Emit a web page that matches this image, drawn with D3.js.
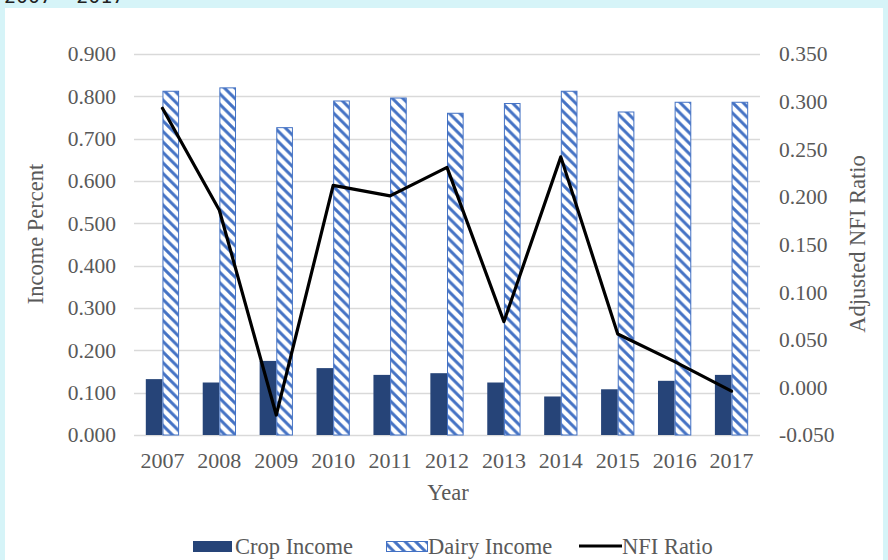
<!DOCTYPE html>
<html>
<head>
<meta charset="utf-8">
<script src="https://cdn.jsdelivr.net/npm/d3@7"></script>
<style>
  html, body { margin: 0; padding: 0; background: #d6f4f8; }
  svg { display: block; }
</style>
</head>
<body>
<svg id="chart" width="888" height="560"></svg>
<script>
const years = ["2007","2008","2009","2010","2011","2012","2013","2014","2015","2016","2017"];
const cropIncome  = [0.132, 0.124, 0.175, 0.158, 0.142, 0.146, 0.124, 0.091, 0.108, 0.128, 0.142];
const dairyIncome = [0.812, 0.820, 0.726, 0.789, 0.796, 0.760, 0.783, 0.812, 0.763, 0.786, 0.786];
const nfiRatio    = [0.293, 0.186, -0.029, 0.212, 0.201, 0.231, 0.069, 0.242, 0.056, 0.027, -0.004];
const leftTicks  = [0, 0.1, 0.2, 0.3, 0.4, 0.5, 0.6, 0.7, 0.8, 0.9];
const rightTicks = [-0.05, 0, 0.05, 0.1, 0.15, 0.2, 0.25, 0.3, 0.35];
const seriesNames = ["Crop Income", "Dairy Income", "NFI Ratio"];

const svg = d3.select("#chart");
const W = 888, H = 560;
const FONT = "'Liberation Serif', 'Times New Roman', serif";
const plot = { left: 134, right: 760, top: 54, bottom: 435 };
const fmt = d => d3.format(".3f")(d).replace("\u2212", "-");

// background panels
svg.append("rect").attr("x", 0).attr("y", 0).attr("width", W).attr("height", H).attr("fill", "#d6f4f8");
svg.append("rect").attr("x", 5).attr("y", 8).attr("width", 878).attr("height", H - 8).attr("fill", "#ffffff");
svg.append("text").attr("x", 4).attr("y", 3).attr("font-family", "'DejaVu Sans Mono', monospace")
  .attr("font-size", 20).attr("fill", "#222").text("2007- 2017");

// hatch pattern
const defs = svg.append("defs");
const P = 10.5;
const pat = defs.append("pattern").attr("id", "hatch").attr("patternUnits", "userSpaceOnUse")
  .attr("width", P).attr("height", P);
pat.append("rect").attr("width", P).attr("height", P).attr("fill", "#ffffff");
pat.append("path").attr("d", `M-2,-2 L${P + 2},${P + 2} M${-P - 2},-2 L2,${P + 2} M${P - 2},-2 L${2 * P + 2},${P + 2}`)
  .attr("stroke", "#4472c4").attr("stroke-width", 3);

const x = d3.scaleBand().domain(years).range([plot.left, plot.right])
  .paddingInner(0.415).paddingOuter(0.2075);
const xs = d3.scaleBand().domain(["crop", "dairy"]).range([0, x.bandwidth()]);
const yL = d3.scaleLinear().domain([0, 0.9]).range([plot.bottom, plot.top]);
const yR = d3.scaleLinear().domain([-0.05, 0.35]).range([plot.bottom, plot.top]);

// gridlines
svg.append("g").selectAll("line").data(leftTicks).join("line")
  .attr("x1", plot.left).attr("x2", plot.right)
  .attr("y1", d => Math.round(yL(d)) + 0.5).attr("y2", d => Math.round(yL(d)) + 0.5)
  .attr("stroke", "#d9d9d9").attr("stroke-width", 1.3);

// bars
svg.append("g").selectAll("rect").data(years).join("rect")
  .attr("x", d => x(d) + xs("crop"))
  .attr("width", xs.bandwidth())
  .attr("y", (d, i) => yL(cropIncome[i]))
  .attr("height", (d, i) => yL(0) - yL(cropIncome[i]))
  .attr("fill", "#264478");
svg.append("g").selectAll("rect").data(years).join("rect")
  .attr("x", d => x(d) + xs("dairy") + 0.5)
  .attr("width", xs.bandwidth() - 1)
  .attr("y", (d, i) => yL(dairyIncome[i]))
  .attr("height", (d, i) => yL(0) - yL(dairyIncome[i]))
  .attr("fill", "url(#hatch)")
  .attr("stroke", "#4472c4").attr("stroke-width", 1);

// line
const line = d3.line().x((d, i) => x(years[i]) + x.bandwidth() / 2).y(d => yR(d));
svg.append("path").datum(nfiRatio).attr("d", line)
  .attr("fill", "none").attr("stroke", "#000").attr("stroke-width", 3.2)
  .attr("stroke-linejoin", "round").attr("stroke-linecap", "round");

// axes
const axL = svg.append("g").attr("transform", `translate(${plot.left - 18},0)`)
  .call(d3.axisLeft(yL).tickValues(leftTicks).tickFormat(fmt).tickSize(0).tickPadding(0));
const axR = svg.append("g").attr("transform", `translate(${plot.right + 19},0)`)
  .call(d3.axisRight(yR).tickValues(rightTicks).tickFormat(fmt).tickSize(0).tickPadding(0));
const axB = svg.append("g").attr("transform", `translate(0,${plot.bottom + 17})`)
  .call(d3.axisBottom(x).tickSize(0).tickPadding(0));
[axL, axR, axB].forEach(a => {
  a.select(".domain").remove();
  a.selectAll("text").attr("font-family", FONT).attr("font-size", 21.5).attr("fill", "#595959");
});
axB.selectAll("text").attr("dy", "0.71em").attr("font-size", 22);

// axis titles
svg.append("text").attr("transform", "translate(43,234) rotate(-90)")
  .attr("text-anchor", "middle").attr("font-family", FONT).attr("font-size", 22.5)
  .attr("fill", "#595959").text("Income Percent");
svg.append("text").attr("transform", "translate(865,244) rotate(-90)")
  .attr("text-anchor", "middle").attr("font-family", FONT).attr("font-size", 22.5)
  .attr("fill", "#595959").text("Adjusted NFI Ratio");
svg.append("text").attr("x", 448).attr("y", 500)
  .attr("text-anchor", "middle").attr("font-family", FONT).attr("font-size", 22.5)
  .attr("fill", "#595959").text("Year");

// legend
const leg = svg.append("g");
const legItems = [
  { name: seriesNames[0], x: 193, type: "crop" },
  { name: seriesNames[1], x: 386, type: "dairy" },
  { name: seriesNames[2], x: 579, type: "line" }
];
legItems.forEach(it => {
  if (it.type === "crop") {
    leg.append("rect").attr("x", it.x).attr("y", 541).attr("width", 39).attr("height", 11).attr("fill", "#264478");
  } else if (it.type === "dairy") {
    leg.append("rect").attr("x", it.x + 0.5).attr("y", 541.5).attr("width", 41).attr("height", 10)
      .attr("fill", "url(#hatch)").attr("stroke", "#4472c4").attr("stroke-width", 1);
  } else {
    leg.append("line").attr("x1", it.x).attr("x2", it.x + 43).attr("y1", 546).attr("y2", 546)
      .attr("stroke", "#000").attr("stroke-width", 3.2);
  }
  leg.append("text").attr("x", it.x + (it.type === "line" ? 43 : 42)).attr("y", 554)
    .attr("font-family", FONT).attr("font-size", 22.5).attr("fill", "#595959").text(it.name);
});
</script>
</body>
</html>
